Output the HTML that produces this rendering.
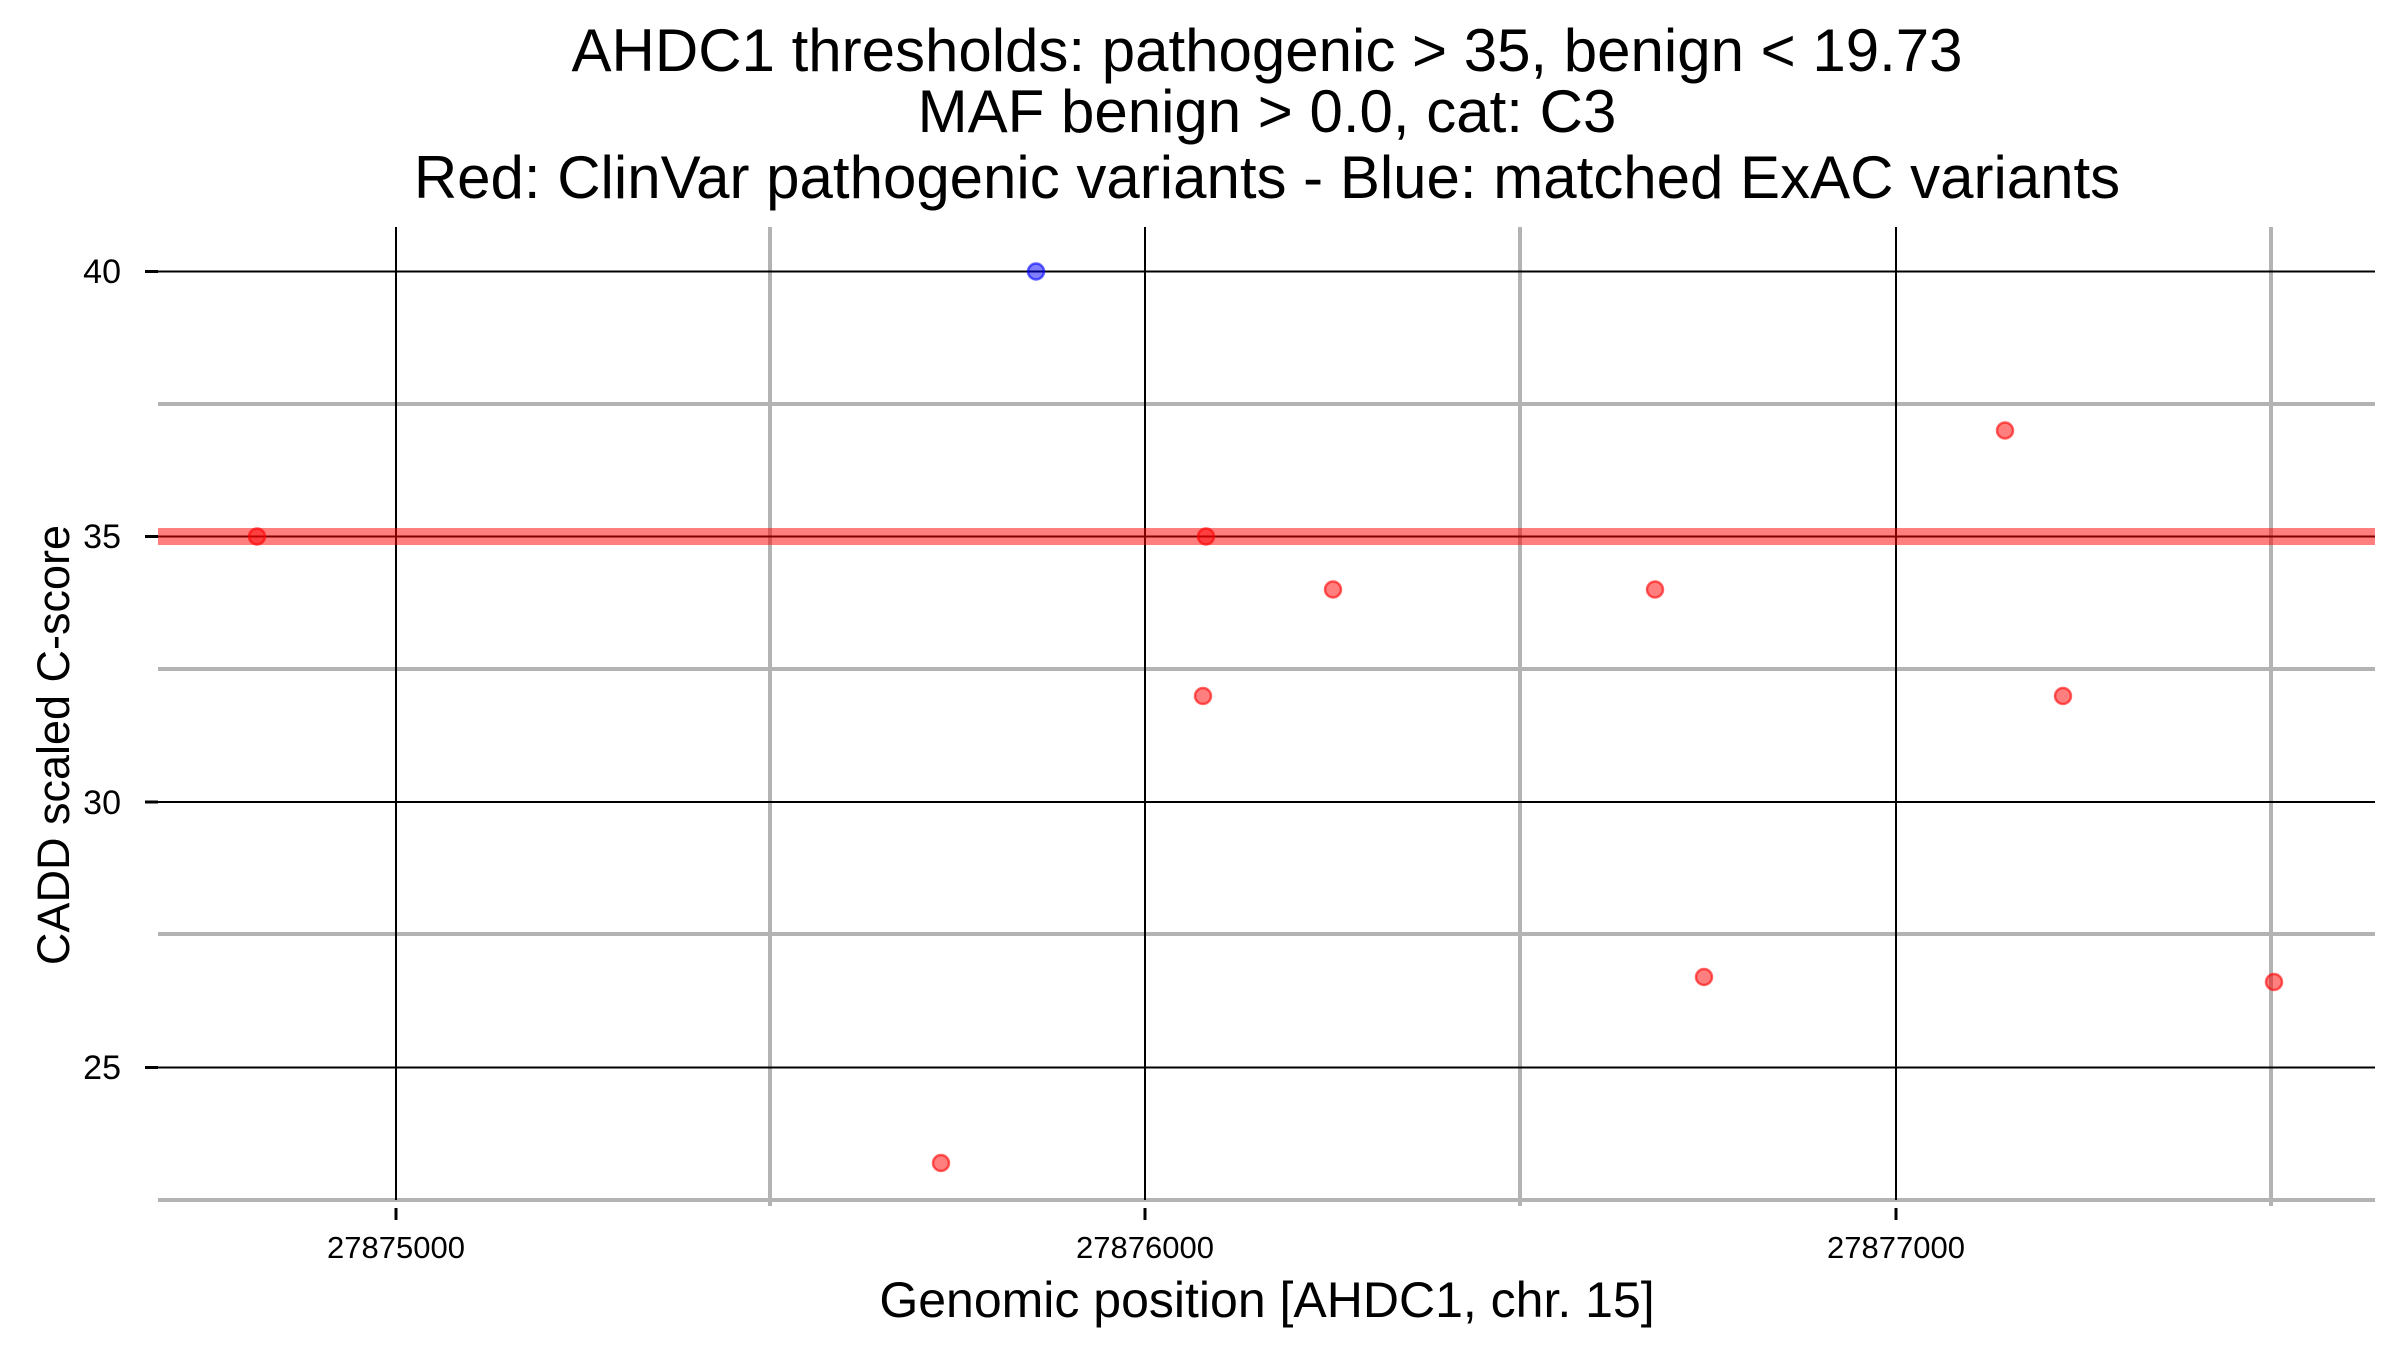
<!DOCTYPE html>
<html><head><meta charset="utf-8"><style>
html,body{margin:0;padding:0;background:#fff;}
svg{display:block;}
text{font-family:"Liberation Sans",Arial,sans-serif;}
</style></head><body>
<svg width="2400" height="1350" viewBox="0 0 2400 1350" xmlns="http://www.w3.org/2000/svg">
<rect width="2400" height="1350" fill="#fff"/>
<g stroke="#b3b3b3" stroke-width="4">
<line x1="158" y1="404" x2="2375" y2="404"/>
<line x1="158" y1="669" x2="2375" y2="669"/>
<line x1="158" y1="934" x2="2375" y2="934"/>
<line x1="158" y1="1200" x2="2375" y2="1200"/>
<line x1="770" y1="227" x2="770" y2="1206"/>
<line x1="1520" y1="227" x2="1520" y2="1206"/>
<line x1="2271" y1="227" x2="2271" y2="1206"/>
</g>
<g stroke="#000" stroke-width="2">
<line x1="158" y1="271.5" x2="2375" y2="271.5"/>
<line x1="158" y1="536.5" x2="2375" y2="536.5"/>
<line x1="158" y1="802" x2="2375" y2="802"/>
<line x1="158" y1="1067.5" x2="2375" y2="1067.5"/>
<line x1="396" y1="227" x2="396" y2="1200"/>
<line x1="1145" y1="227" x2="1145" y2="1200"/>
<line x1="1896" y1="227" x2="1896" y2="1200"/>
</g>
<g stroke="#000" stroke-width="3">
<line x1="145" y1="271.5" x2="158" y2="271.5"/>
<line x1="145" y1="536.5" x2="158" y2="536.5"/>
<line x1="145" y1="802" x2="158" y2="802"/>
<line x1="145" y1="1067.5" x2="158" y2="1067.5"/>
<line x1="396" y1="1208" x2="396" y2="1220"/>
<line x1="1145" y1="1208" x2="1145" y2="1220"/>
<line x1="1896" y1="1208" x2="1896" y2="1220"/>
</g>
<rect x="158" y="528" width="2217" height="17" fill="rgba(255,0,0,0.5)"/>
<g stroke-width="2.5">
<circle cx="257" cy="536.5" r="8" fill="rgba(255,0,0,0.5)" stroke="rgba(255,0,0,0.6)"/>
<circle cx="1036" cy="271.5" r="8" fill="rgba(0,0,255,0.5)" stroke="rgba(0,0,255,0.6)"/>
<circle cx="1206" cy="536.5" r="8" fill="rgba(255,0,0,0.5)" stroke="rgba(255,0,0,0.6)"/>
<circle cx="1203" cy="696" r="8" fill="rgba(255,0,0,0.5)" stroke="rgba(255,0,0,0.6)"/>
<circle cx="1333" cy="589.5" r="8" fill="rgba(255,0,0,0.5)" stroke="rgba(255,0,0,0.6)"/>
<circle cx="1655" cy="589.5" r="8" fill="rgba(255,0,0,0.5)" stroke="rgba(255,0,0,0.6)"/>
<circle cx="1704" cy="977" r="8" fill="rgba(255,0,0,0.5)" stroke="rgba(255,0,0,0.6)"/>
<circle cx="941" cy="1163" r="8" fill="rgba(255,0,0,0.5)" stroke="rgba(255,0,0,0.6)"/>
<circle cx="2005" cy="430.5" r="8" fill="rgba(255,0,0,0.5)" stroke="rgba(255,0,0,0.6)"/>
<circle cx="2063" cy="696" r="8" fill="rgba(255,0,0,0.5)" stroke="rgba(255,0,0,0.6)"/>
<circle cx="2274" cy="982" r="8" fill="rgba(255,0,0,0.5)" stroke="rgba(255,0,0,0.6)"/>
</g>
<g font-size="34" text-anchor="end" fill="#000">
<text x="121" y="283">40</text>
<text x="121" y="548">35</text>
<text x="121" y="814">30</text>
<text x="121" y="1079">25</text>
</g>
<g font-size="31" text-anchor="middle" fill="#000">
<text x="396" y="1258">27875000</text>
<text x="1145" y="1258">27876000</text>
<text x="1896" y="1258">27877000</text>
</g>
<text x="1267" y="1317" font-size="50" text-anchor="middle">Genomic position [AHDC1, chr. 15]</text>
<text transform="translate(69,745) rotate(-90)" font-size="45" text-anchor="middle">CADD scaled C-score</text>
<g font-size="60" text-anchor="middle">
<text x="1267" y="71">AHDC1 thresholds: pathogenic &gt; 35, benign &lt; 19.73</text>
<text x="1267" y="132">MAF benign &gt; 0.0, cat: C3</text>
<text x="1267" y="198">Red: ClinVar pathogenic variants - Blue: matched ExAC variants</text>
</g>
</svg>
</body></html>
